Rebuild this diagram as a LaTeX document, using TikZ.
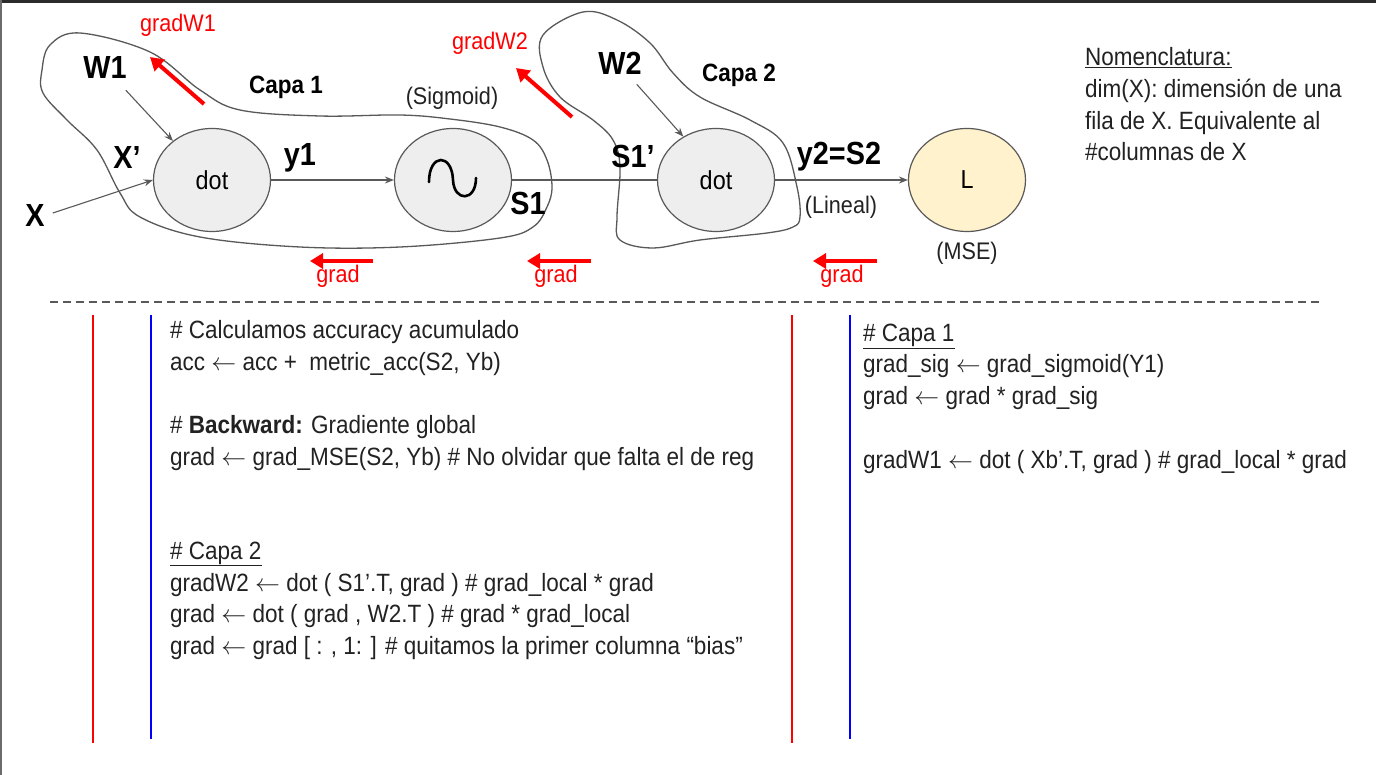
\documentclass[tikz,border=0pt]{standalone}
\usepackage{fontspec}
\setmainfont{Liberation Sans}[FakeStretch=0.9]
\usetikzlibrary{arrows.meta,shapes.geometric}
\definecolor{edge}{HTML}{595959}
\definecolor{opfill}{HTML}{EEEEEE}
\definecolor{lossfill}{HTML}{FFF2CC}
\definecolor{darkbar}{HTML}{2B2B2B}
\definecolor{txt}{HTML}{222222}
\newcommand{\larr}{\ensuremath{\leftarrow}}
\begin{document}
\begin{tikzpicture}[x=1pt,y=-1pt,
  op/.style={ellipse,draw=edge,line width=1.2pt,fill=opfill,minimum width=117pt,minimum height=103pt,inner sep=0pt,font=\fontsize{26}{26}\selectfont},
  lbl/.style={inner sep=0pt,font=\bfseries\fontsize{32}{32}\selectfont},
  caplbl/.style={inner sep=0pt,font=\bfseries\fontsize{25}{25}\selectfont},
  light/.style={inner sep=0pt,text=txt,font=\fontsize{24}{24}\selectfont},
  redtxt/.style={inner sep=0pt,text=red,font=\fontsize{24}{24}\selectfont},
  code/.style={inner sep=0pt,anchor=base west,text=txt,font=\fontsize{25}{31}\selectfont},
  garrow/.style={draw=edge,line width=1.1pt,-{Stealth[length=9pt,width=7pt]}},
  gline/.style={draw=edge,line width=1.1pt},
  rarrow/.style={draw=red,line width=4pt,-{Triangle[length=13pt,width=15pt]}},
  blob/.style={draw=edge,line width=1.3pt},
  sep/.style={line width=1.4pt}]
\useasboundingbox (0,0) rectangle (1376,775);
\fill[white] (0,0) rectangle (1376,775);
\fill[darkbar] (0,0) rectangle (1376,3);
\fill[darkbar!70] (0,0) rectangle (1.5,775);

% blobs
\draw[blob] plot[smooth cycle,tension=0.6] coordinates {(80,33) (150,52) (200,90) (240,110) (320,116) (400,115) (450,119) (500,127) (533,140) (547,160) (552,187) (547,207) (533,227) (500,238) (400,247) (300,247) (200,237) (140,217) (120,193) (97,150) (67,120) (43,93) (42,70) (50,45)};
\draw[blob] plot[smooth cycle,tension=0.6] coordinates {(583,12) (617,20) (650,43) (673,73) (700,97) (750,120) (783,143) (797,187) (800,217) (793,227) (767,233) (700,240) (653,248) (620,240) (617,217) (620,167) (613,140) (593,120) (560,97) (543,67) (543,35)};

% operation nodes
\node[op] (dot1) at (212,180) {dot};
\node[op] (sig) at (453,180) {};
\node[op] (dot2) at (716,180) {dot};
\node[op,fill=lossfill] (loss) at (967,180) {L};
\draw[line width=2.6pt,line cap=round] ([xshift=-24pt,yshift=-2pt]sig.center) .. controls ([xshift=-24pt,yshift=27pt]sig.center) and ([xshift=-1pt,yshift=27pt]sig.center) .. (sig.center) .. controls ([xshift=1pt,yshift=-22pt]sig.center) and ([xshift=23pt,yshift=-22pt]sig.center) .. ([xshift=23pt,yshift=2pt]sig.center);

% labels
\node[lbl] (X) at (35,215) {X};
\node[lbl] (Xp) at (127,157) {X’};
\node[lbl] (W1) at (105,67) {W1};
\node[lbl] (y1) at (300,158) {y1};
\node[caplbl] (capa1) at (286,87) {Capa 1};
\node[light] (sigm) at (452,98) {(Sigmoid)};
\node[lbl] (S1) at (528,203) {S1};
\node[lbl] (S1p) at (633,156) {S1’};
\node[lbl] (W2) at (620,63) {W2};
\node[caplbl] (capa2) at (739,75) {Capa 2};
\node[lbl] (y2) at (839,157) {y2=S2};
\node[light] (lineal) at (841,207) {(Lineal)};
\node[light] (mse) at (967,253) {(MSE)};

% connectors
\draw[garrow] ([xshift=8pt,yshift=2pt]X.east) -- (dot1.west);
\draw[garrow] ([xshift=-1pt,yshift=-12pt]W1.south east) -- (dot1.135);
\draw[garrow] (dot1.east) -- (sig.west);
\draw[gline] (sig.east) -- (dot2.west);
\draw[garrow] (dot2.east) -- (loss.west);
\draw[garrow] ([xshift=-5pt,yshift=-10pt]W2.south east) -- (dot2.127);

% red gradient arrows
\coordinate (rw1s) at (204,104); \coordinate (rw1e) at (150,57);
\coordinate (rw2s) at (572,117); \coordinate (rw2e) at (516,68);
\draw[rarrow] (rw1s) -- (rw1e);
\draw[rarrow] (rw2s) -- (rw2e);
\node[redtxt] (gw1) at (178,25) {gradW1};
\node[redtxt] (gw2) at (490,43) {gradW2};
\coordinate (g1s) at (373,261); \coordinate (g1e) at (310,261);
\coordinate (g2s) at (591,261); \coordinate (g2e) at (527,261);
\coordinate (g3s) at (877,261); \coordinate (g3e) at (813,261);
\draw[rarrow] (g1s) -- (g1e);
\draw[rarrow] (g2s) -- (g2e);
\draw[rarrow] (g3s) -- (g3e);
\node[redtxt] (gr1) at (338,276) {grad};
\node[redtxt] (gr2) at (556,276) {grad};
\node[redtxt] (gr3) at (842,276) {grad};

% nomenclature
\node[code] (n1) at (1085,66) {\underline{Nomenclatura:}};
\node[code] (n2) at (1085,98) {dim(X): dimensión de una};
\node[code] (n3) at (1085,130) {fila de X. Equivalente al};
\node[code] (n4) at (1085,161) {\#columnas de X};

% separator
\draw[edge,line width=1.2pt,dash pattern=on 8pt off 5pt] (50,302) -- (1322,302);
\draw[red,sep] (93,315) -- (93,743);
\draw[blue,sep] (151,315) -- (151,739);
\draw[red,sep] (792,315) -- (792,743);
\draw[blue,sep] (850,315) -- (850,739);

% code left
\node[code] (c1) at (170,339) {\# Calculamos accuracy acumulado};
\node[code] (c2) at (170,371) {acc \larr{} acc +\ \ metric\_acc(S2, Yb)};
\node[code] (c3) at (170,433) {\# \textbf{Backward:} Gradiente global};
\node[code] (c4) at (170,465) {grad \larr{} grad\_MSE(S2, Yb) \# No olvidar que falta el de reg};
\node[code] (c5) at (170,559) {\underline{\# Capa 2}};
\node[code] (c6) at (170,591) {gradW2 \larr{} dot ( S1’.T, grad ) \# grad\_local * grad};
\node[code] (c7) at (170,622) {grad \larr{} dot ( grad , W2.T ) \# grad * grad\_local};
\node[code] (c8) at (170,654) {grad \larr{} grad [ : , 1: ] \# quitamos la primer columna “bias”};

% code right
\node[code] (d1) at (863,342) {\underline{\# Capa 1}};
\node[code] (d2) at (863,373) {grad\_sig \larr{} grad\_sigmoid(Y1)};
\node[code] (d3) at (863,405) {grad \larr{} grad * grad\_sig};
\node[code] (d4) at (863,468) {gradW1 \larr{} dot ( Xb’.T, grad ) \# grad\_local * grad};
\end{tikzpicture}
\end{document}
